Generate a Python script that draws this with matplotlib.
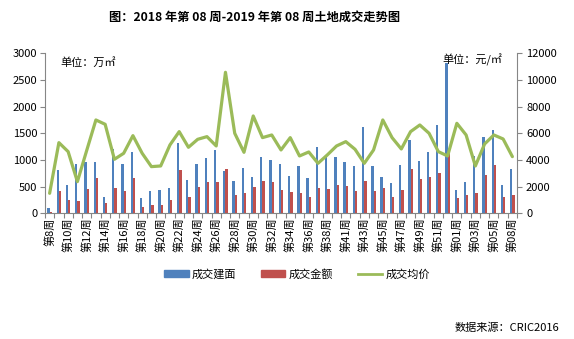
import matplotlib
matplotlib.use("Agg")
import matplotlib.pyplot as plt
import numpy as np
from matplotlib.patches import Patch
from matplotlib.lines import Line2D

plt.rcParams["font.family"] = ["Noto Sans CJK SC", "DejaVu Sans"]

weeks = (["第8周", "第9周"] + [f"第{w}周" for w in range(10, 39)] + ["第39-40周"]
         + [f"第{w}周" for w in range(41, 53)]
         + [f"第{w:02d}周" for w in range(1, 6)] + ["第06-07周", "第08周"])

# 成交建面 (万㎡)
area = [100, 812, 531, 925, 962, 962, 306, 1206, 925, 1150,
        287, 419, 437, 475, 1319, 625, 925, 1037, 1187, 794,
        606, 850, 681, 1056, 1000, 925, 700, 887, 662, 1244,
        1075, 1056, 962, 887, 1619, 887, 681, 569, 906, 1375,
        981, 1150, 1656, 2819, 437, 587, 1075, 1431, 1562, 531, 831]

# 成交金额
amount = [25, 419, 250, 231, 456, 669, 194, 475, 419, 669,
          125, 156, 156, 250, 812, 306, 494, 587, 587, 831,
          344, 381, 494, 606, 587, 437, 400, 381, 306, 475,
          456, 531, 512, 419, 606, 419, 475, 306, 437, 831,
          644, 681, 756, 1187, 287, 344, 381, 719, 906, 306, 344]

# 成交均价 (元/㎡)
price = [1500, 5300, 4625, 2375, 4700, 7000, 6675, 4050, 4500, 5825,
         4500, 3500, 3550, 5125, 6125, 4950, 5550, 5750, 5050, 10575,
         6000, 4575, 7300, 5675, 5875, 4750, 5675, 4300, 4600, 3750,
         4375, 5050, 5375, 4800, 3750, 4750, 7000, 5675, 4825, 6125,
         6625, 6000, 4625, 4300, 6750, 5875, 3550, 5200, 5875, 5575, 4250]

BLUE, RED, GREEN = "#4F81BD", "#C0504D", "#9BBB59"
AXIS = "#868686"

fig = plt.figure(figsize=(5.74, 3.39), dpi=100)
W, H = 574, 339
left, right, top, bottom = 45, 517, 53.3, 213.3
ax = fig.add_axes([left / W, 1 - bottom / H, (right - left) / W, (bottom - top) / H])
ax2 = ax.twinx()

x = np.arange(len(weeks))
bw = 0.25
ax.bar(x - bw / 2, area, bw, color=BLUE, zorder=2)
ax.bar(x + bw / 2, amount, bw, color=RED, zorder=2)
ax2.plot(x, price, color=GREEN, lw=2.3, solid_capstyle="round", solid_joinstyle="round")

ax.set_xlim(-0.5, len(weeks) - 0.5)
ax.set_ylim(0, 3000)
ax2.set_ylim(0, 12000)
ax.set_yticks(range(0, 3001, 500))
ax2.set_yticks(range(0, 12001, 2000))

ax.set_xticks(x[::2])
ax.set_xticklabels(weeks[::2], rotation=90, va="top", ha="center", fontsize=8)
ax.set_xticks(np.arange(-0.5, len(weeks), 1), minor=True)
ax.tick_params(axis="x", which="major", length=0, pad=3)
ax.tick_params(axis="x", which="minor", length=3.5, color=AXIS, width=0.8)
ax.tick_params(axis="y", length=3.5, color=AXIS, width=0.8, labelsize=8, pad=2)
ax2.tick_params(axis="y", length=3.5, color=AXIS, width=0.8, labelsize=8, pad=3)

for s in ["top", "right"]:
    ax.spines[s].set_visible(False)
for s in ["top", "left", "bottom"]:
    ax2.spines[s].set_visible(False)
ax.spines["left"].set_color(AXIS)
ax.spines["bottom"].set_color(AXIS)
ax2.spines["right"].set_color(AXIS)
for s in [ax.spines["left"], ax.spines["bottom"], ax2.spines["right"]]:
    s.set_linewidth(0.8)

fig.text(255 / W, 1 - 17 / H, "图：2018 年第 08 周-2019 年第 08 周土地成交走势图",
         ha="center", va="center", fontsize=8.8, fontweight="bold")
fig.text(60 / W, 1 - 62 / H, "单位：万㎡", ha="left", va="center", fontsize=8)
fig.text(502 / W, 1 - 60 / H, "单位：元/㎡", ha="right", va="center", fontsize=8)
fig.text(559 / W, 1 - 328 / H, "数据来源：CRIC2016", ha="right", va="center", fontsize=8)

handles = [Patch(color=BLUE), Patch(color=RED), Line2D([], [], color=GREEN, lw=2)]
fig.legend(handles, ["成交建面", "成交金额", "成交均价"], loc="center",
           bbox_to_anchor=(297 / W, 1 - 274 / H), ncol=3, frameon=False,
           fontsize=8, handlelength=2.2, handleheight=0.5, handletextpad=0.3,
           columnspacing=2.2)

fig.savefig("out.png", dpi=100)
